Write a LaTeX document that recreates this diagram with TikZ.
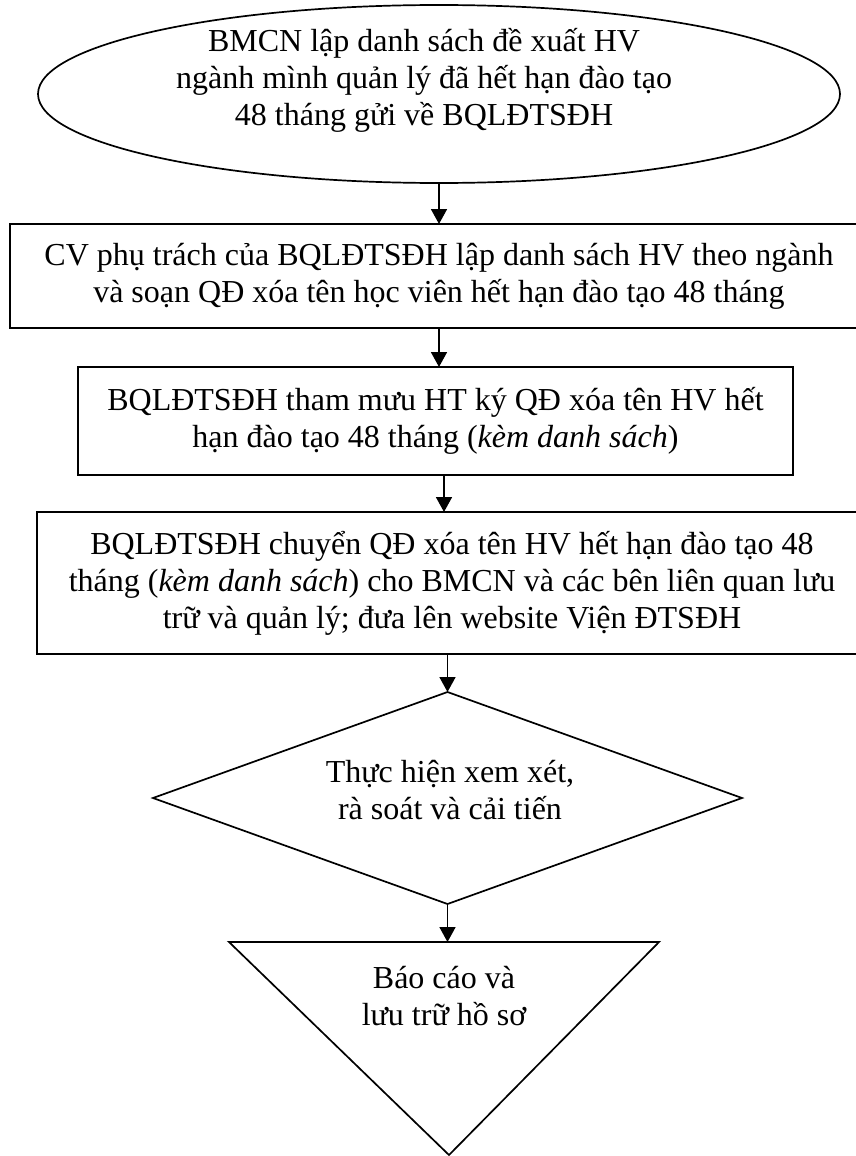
\documentclass[tikz,border=0pt]{standalone}
\usepackage{fontspec}
\setmainfont{Liberation Serif}
\usetikzlibrary{shapes.geometric,arrows.meta}
\begin{document}
\begin{tikzpicture}[x=1pt,y=-1pt,
  shp/.style={draw, line width=1.7pt, inner sep=0pt, outer sep=0pt},
  txt/.style={align=center, font=\fontsize{32}{37}\selectfont, inner sep=0pt},
  arr/.style={line width=1.7pt, -{Triangle[length=15pt,width=16pt]}}]
\useasboundingbox (0,0) rectangle (855,1156);
% start ellipse
\node[shp, ellipse, minimum width=802pt, minimum height=178pt] (e) at (439,94) {};
\node[txt] (et) at (424,80) {BMCN lập danh sách đề xuất HV\\ngành mình quản lý đã hết hạn đào tạo\\48 tháng gửi về BQLĐTSĐH};
% boxes
\node[shp, rectangle, minimum width=858pt, minimum height=104pt, txt] (b2) at (439,276)
  {CV phụ trách của BQLĐTSĐH lập danh sách HV theo ngành\\và soạn QĐ xóa tên học viên hết hạn đào tạo 48 tháng};
\node[shp, rectangle, minimum width=715pt, minimum height=108pt, txt] (b3) at (435.5,421)
  {BQLĐTSĐH tham mưu HT ký QĐ xóa tên HV hết\\hạn đào tạo 48 tháng (\textit{kèm danh sách})};
\node[shp, rectangle, minimum width=830pt, minimum height=142pt, txt] (b4) at (452,583)
  {BQLĐTSĐH chuyển QĐ xóa tên HV hết hạn đào tạo 48\\tháng (\textit{kèm danh sách}) cho BMCN và các bên liên quan lưu\\trữ và quản lý; đưa lên website Viện ĐTSĐH};
% diamond
\node[shp, diamond, minimum width=589pt, minimum height=212pt] (d) at (447.5,798) {};
\node[txt] (dt) at (450,790) {Thực hiện xem xét,\\rà soát và cải tiến};
% triangle
\draw[line width=1.7pt] (229,942) -- (659,942) -- (449,1155) -- cycle;
\coordinate (tt) at (448,942);
\node[txt] (tx) at (444,996) {Báo cáo và\\lưu trữ hồ sơ};
% connectors
\draw[arr] (e.south) -- (e.south |- b2.north);
\draw[arr] (b2.south) -- (b2.south |- b3.north);
\draw[arr] ([xshift=8.5pt]b3.south) -- ([xshift=8.5pt]b3.south |- b4.north);
\draw[arr] (d.north |- b4.south) -- (d.north);
\draw[arr] (d.south) -- (d.south |- tt);
\end{tikzpicture}
\end{document}
